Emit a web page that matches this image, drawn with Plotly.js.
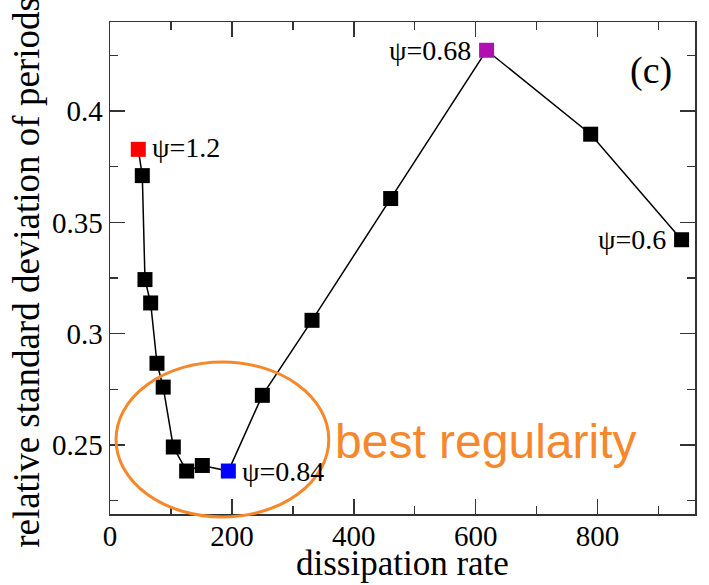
<!DOCTYPE html>
<html>
<head>
<meta charset="utf-8">
<script src="https://cdn.plot.ly/plotly-3.0.1.min.js"></script>
<style>
  html, body { margin: 0; padding: 0; background: #fff; }
  #chart { width: 709px; height: 585px; }
</style>
</head>
<body>
<div id="chart"></div>
<script>
// Dissipation rate vs. relative standard deviation of periods
const dissipation = [46.4, 53, 57.4, 66.7, 77.1, 87.3, 103.9, 125.8, 151.5, 194.2, 250, 331.5, 460.6, 618, 788.8, 938];
const relStd      = [0.3828, 0.371, 0.3243, 0.3138, 0.2867, 0.276, 0.2491, 0.2383, 0.2408, 0.2383, 0.2723, 0.306, 0.3607, 0.4273, 0.3896, 0.3422];

// Points that carry a psi label, and their colours
const labelIdx    = [0, 9, 13, 15];
const labelText   = ['ψ=1.2', 'ψ=0.84', 'ψ=0.68', 'ψ=0.6'];
const labelSide   = ['right', 'right', 'left', 'left'];
const pointColors = dissipation.map(() => '#000000');
pointColors[0]  = '#ff0000';
pointColors[9]  = '#0000ff';
pointColors[13] = '#b010b0';

const serif = 'Liberation Serif, Times New Roman, serif';
const axisCol = '#333333';

const trace = {
  x: dissipation,
  y: relStd,
  type: 'scatter',
  mode: 'lines+markers',
  line: { color: '#000000', width: 1.5 },
  marker: { symbol: 'square', size: 15, color: pointColors, line: { width: 0 } },
  hoverinfo: 'x+y'
};

const annotations = labelIdx.map((i, k) => ({
  x: dissipation[i], y: relStd[i], xref: 'x', yref: 'y',
  text: labelText[k], showarrow: false,
  xanchor: labelSide[k] === 'right' ? 'left' : 'right',
  yanchor: 'middle',
  xshift: labelSide[k] === 'right' ? 12 : -14,
  yshift: k === 0 ? 2 : 0,
  font: { family: serif, size: 28, color: '#000' }
}));

annotations.push({
  x: 0.925, y: 0.902, xref: 'paper', yref: 'paper',
  text: '(c)', showarrow: false, xanchor: 'center', yanchor: 'middle',
  font: { family: serif, size: 38, color: '#000' }
});
annotations.push({
  x: 0.381, y: 0.147, xref: 'paper', yref: 'paper',
  text: 'best regularity', showarrow: false, xanchor: 'left', yanchor: 'middle',
  font: { family: 'Liberation Sans, Arial, sans-serif', size: 48, color: '#f5882b' }
});
// axis titles, placed as free text next to the frame
annotations.push({
  x: 0.5, y: -0.1, xref: 'paper', yref: 'paper',
  text: 'dissipation rate', showarrow: false, xanchor: 'center', yanchor: 'middle',
  font: { family: serif, size: 35, color: '#000' }
});
annotations.push({
  x: -0.142, y: 0.492, xref: 'paper', yref: 'paper',
  text: 'relative standard deviation of periods', showarrow: false, textangle: -90,
  xanchor: 'center', yanchor: 'middle',
  font: { family: serif, size: 37, color: '#000' }
});

const axisCommon = {
  showline: true, linecolor: axisCol, linewidth: 1.5, mirror: 'allticks',
  ticks: 'inside', ticklen: 15, tickwidth: 1.5, tickcolor: axisCol,
  showgrid: false, zeroline: false,
  tickfont: { family: serif, size: 29, color: '#000' }
};

const layout = {
  width: 709, height: 585,
  margin: { l: 110, r: 14, t: 22, b: 71, pad: 0 },
  paper_bgcolor: '#ffffff', plot_bgcolor: '#ffffff',
  showlegend: false,
  xaxis: Object.assign({}, axisCommon, {
    range: [0, 960], tick0: 0, dtick: 200, ticklabelstandoff: -4,
    minor: { dtick: 100, ticks: 'inside', ticklen: 8, tickwidth: 1.5, tickcolor: axisCol, showgrid: false }
  }),
  yaxis: Object.assign({}, axisCommon, {
    range: [0.219, 0.44], tick0: 0, dtick: 0.05,
    minor: { dtick: 0.025, ticks: 'inside', ticklen: 8, tickwidth: 1.5, tickcolor: axisCol, showgrid: false }
  }),
  shapes: [{
    type: 'circle', xref: 'paper', yref: 'paper',
    x0: 0.0103, x1: 0.374, y0: -0.006, y1: 0.309,
    line: { color: '#f5882b', width: 3 }
  }],
  annotations: annotations
};

Plotly.newPlot('chart', [trace], layout, { displayModeBar: false, staticPlot: true });
</script>
</body>
</html>
